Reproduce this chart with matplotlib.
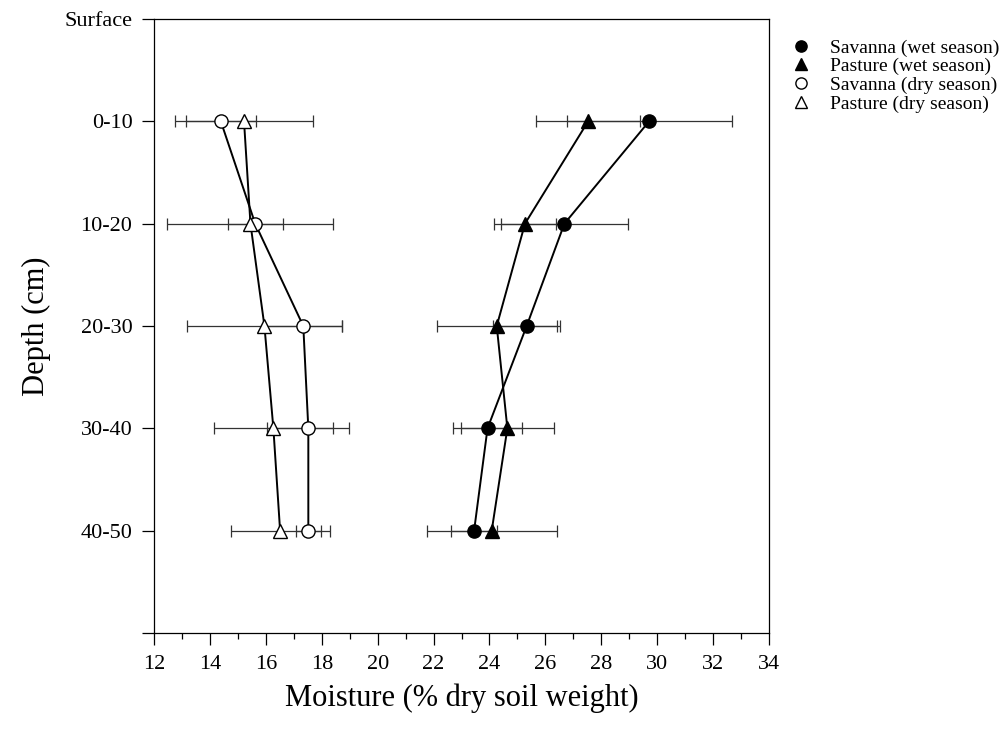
import numpy as np
import matplotlib
matplotlib.use("Agg")
import matplotlib.pyplot as plt
from matplotlib.ticker import MultipleLocator

plt.rcParams['font.family'] = ['Liberation Serif', 'DejaVu Serif']

depth_labels = ["Surface", "0-10", "10-20", "20-30", "30-40", "40-50", ""]
depth_pos = [1, 2, 3, 4, 5]

savanna_wet = [29.71, 26.68, 25.33, 23.93, 23.45]
savanna_wet_err = [2.95, 2.28, 1.19, 1.23, 0.81]
pasture_wet = [27.53, 25.27, 24.26, 24.64, 24.08]
pasture_wet_err = [1.86, 1.10, 2.14, 1.66, 2.32]
savanna_dry = [14.39, 15.62, 17.34, 17.52, 17.52]
savanna_dry_err = [1.25, 0.98, 1.40, 1.47, 0.44]
pasture_dry = [15.22, 15.45, 15.95, 16.27, 16.51]
pasture_dry_err = [2.46, 2.97, 2.76, 2.12, 1.77]

fig = plt.figure(figsize=(10.02, 7.41), dpi=100)
ax = fig.add_axes([0.1537, 0.1457, 0.6138, 0.8287])

series = [
    (savanna_wet, savanna_wet_err, "o", "black", "Savanna (wet season)"),
    (pasture_wet, pasture_wet_err, "^", "black", "Pasture (wet season)"),
    (savanna_dry, savanna_dry_err, "o", "white", "Savanna (dry season)"),
    (pasture_dry, pasture_dry_err, "^", "white", "Pasture (dry season)"),
]

handles = []
for vals, errs, mk, fc, lab in series:
    ax.errorbar(vals, depth_pos, xerr=errs, fmt="none", ecolor="#333333",
                elinewidth=0.9, capsize=4, capthick=0.9, zorder=1)
    ax.plot(vals, depth_pos, color="black", lw=1.4, zorder=2)
    h, = ax.plot(vals, depth_pos, linestyle="none", marker=mk, markersize=9.5,
                 markerfacecolor=fc, markeredgecolor="black", markeredgewidth=1.0,
                 zorder=3, label=lab)
    handles.append(h)

ax.set_xlim(12, 34)
ax.set_ylim(6, 0)
ax.set_yticks(range(7))
ax.set_yticklabels(depth_labels)
ax.xaxis.set_major_locator(MultipleLocator(2))
ax.xaxis.set_minor_locator(MultipleLocator(1))
ax.tick_params(axis="both", which="major", direction="out", length=8.5, width=0.9,
               labelsize=16, pad=7)
ax.tick_params(axis="x", which="minor", direction="out", length=4.5, width=0.9)
ax.tick_params(axis="y", which="minor", left=False)
for s in ax.spines.values():
    s.set_linewidth(0.9)

ax.set_xlabel("Moisture (% dry soil weight)", fontsize=22, labelpad=7)
ax.set_ylabel("Depth (cm)", fontsize=22, labelpad=10)

ax.legend(handles=handles, loc="upper left", bbox_to_anchor=(1.02, 0.98),
          frameon=False, fontsize=14, labelspacing=0.05, handletextpad=0.9,
          handlelength=1.2, markerscale=0.85, borderaxespad=0)

fig.savefig("out.png", dpi=100)
